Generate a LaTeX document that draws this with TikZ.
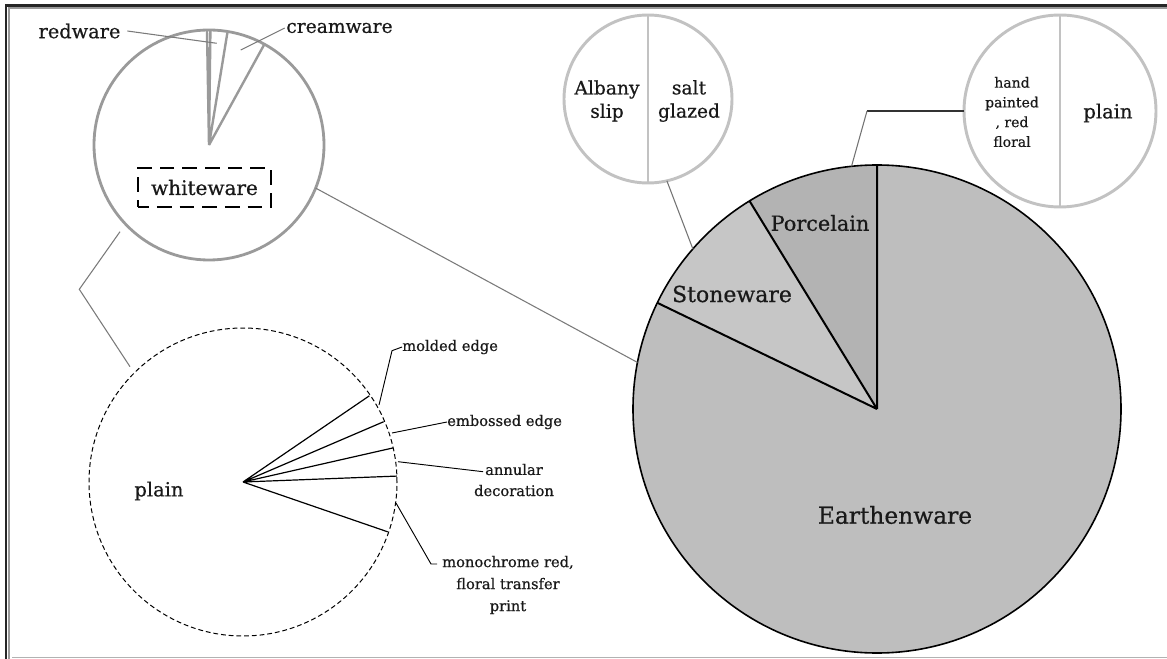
\documentclass[tikz,border=0pt]{standalone}
\usepackage{fontspec}
\setmainfont{DejaVu Serif}[FakeBold=0.6]
\usetikzlibrary{calc}
\definecolor{earth}{HTML}{BEBEBE}
\definecolor{stone}{HTML}{C6C6C6}
\definecolor{porc}{HTML}{B3B3B3}
\definecolor{ringgray}{HTML}{9A9A9A}
\definecolor{lightring}{HTML}{C2C2C2}
\definecolor{leadgray}{HTML}{7A7A7A}
\newcommand{\myfs}[2]{\fontsize{#1}{#2}\selectfont}
\begin{document}
\begin{tikzpicture}[x=0.75pt,y=0.75pt,
  ring/.style={draw=ringgray,line width=2.1pt},
  lring/.style={draw=lightring,line width=2.2pt},
  leader/.style={draw=leadgray,line width=0.8pt},
  blead/.style={draw=black,line width=0.7pt},
  lbl/.style={inner sep=0pt,align=center,text=black!90},
  disc/.style={circle,inner sep=0pt,outer sep=0pt}]
\useasboundingbox (0,-659) rectangle (1167,0);
% frame
\draw[line width=1.8pt,black!85] (6,-659) -- (6,-5.5) -- (1167,-5.5);
\draw[line width=1.5pt,black!40] (8.7,-659) -- (8.7,-8) -- (1167,-8);
\draw[line width=1pt,black!30] (12,-657.5) -- (1167,-657.5);

% ---------- big pie ----------
\node[disc,minimum size=366pt] (big) at (877,-409) {};
\fill[earth] (big.center) circle[radius=244];
\fill[porc] (big.center) -- ++(90:244) arc[start angle=90,end angle=121.5,radius=244] -- cycle;
\fill[stone] (big.center) -- ++(121.5:244) arc[start angle=121.5,end angle=154.2,radius=244] -- cycle;
\draw[line width=1.2pt] (big.center) circle[radius=244];
\draw[line width=1.5pt] (big.center) -- ++(90:244) (big.center) -- ++(121.5:244) (big.center) -- ++(154.2:244);
\node[lbl,font=\myfs{15.6}{18}] (porct) at (820,-223) {Porcelain};
\node[lbl,font=\myfs{16.5}{19}] (stont) at (732,-294) {Stoneware};
\node[lbl,font=\myfs{17.5}{20}] (eartht) at (895,-515) {Earthenware};

% ---------- stoneware breakdown ----------
\node[disc,lring,minimum size=126pt] (alb) at (648,-99) {};
\draw[lring] (alb.north) -- (alb.south);
\node[lbl,font=\myfs{14}{17.5}] (albt) at (607,-101) {Albany\\slip};
\node[lbl,font=\myfs{14}{17.5}] (saltt) at (689,-101) {salt\\glazed};
\draw[line width=0.8pt,black!55] (alb.-77) -- (big.139);

% ---------- porcelain breakdown ----------
\node[disc,lring,minimum size=144pt] (hp) at (1060,-111) {};
\draw[lring] (hp.north) -- (hp.south);
\node[lbl,font=\myfs{10.5}{14.8}] (hpt) at (1012,-112) {hand\\painted\\, red\\floral};
\node[lbl,font=\myfs{14.6}{17}] (plainr) at (1108,-113) {plain};
\coordinate (hpb) at (867,-111);
\draw[line width=0.8pt,black!80] (hp.west) -- (hpb);
\draw[line width=0.8pt,black!55] (hpb) -- (big.96);

% ---------- whiteware pie (earthenware breakdown) ----------
\node[disc,ring,minimum size=172.5pt] (wp) at (209,-145) {};
\draw[draw=ringgray,line width=1.8pt,line join=round]
  (wp.center) -- ++(91:114) (wp.center) -- ++(89.3:114)
  (wp.center) -- ++(80.7:114) (wp.center) -- ++(61.2:114);
\node[draw,line width=1.6pt,dash pattern=on 11pt off 6pt,dash phase=3pt,
  minimum width=99.5pt,minimum height=29pt,inner sep=0pt,font=\myfs{15}{17},text=black!90]
  (wbox) at (204.5,-187.5) {whiteware};
\node[lbl,font=\myfs{14.5}{17}] (redt) at (79.5,-31) {redware};
\node[lbl,font=\myfs{14}{17}] (cremt) at (339.5,-28) {creamware};
\coordinate (redend) at (216.7,-43.3);
\coordinate (cremend) at (240.7,-50);
\draw[leader] ([xshift=5pt]redt.east) -- (redend);
\draw[leader] ([xshift=-1pt]cremt.west) -- (cremend);
\draw[leader] (wp.-22) -- (big.169);

% ---------- whiteware breakdown (dashed pie) ----------
\node[disc,draw,line width=0.75pt,dash pattern=on 3.6pt off 2.2pt,minimum size=231pt] (dp) at (243,-482) {};
\draw[line width=0.9pt,line join=round]
  (dp.center) -- ++(34.3:153) (dp.center) -- ++(23.2:153)
  (dp.center) -- ++(12.8:154) (dp.center) -- ++(2.2:154)
  (dp.center) -- ++(-19:153);
\node[lbl,font=\myfs{14.6}{17}] (plainl) at (159,-491) {plain};
\coordinate (b1) at (120,-231.7);
\coordinate (b2) at (79.3,-289.3);
\coordinate (b3) at (130,-366.7);
\draw[leader] (b1) -- (b2) -- (b3);

\node[lbl,anchor=west,font=\myfs{11}{15}] (mold) at (402,-347) {molded edge};
\node[lbl,anchor=west,font=\myfs{11}{15}] (emb) at (447,-422) {embossed edge};
\node[lbl,font=\myfs{11}{15.8}] (ann) at (514,-480) {annular\\decoration};
\node[lbl,font=\myfs{11}{16.5}] (mono) at (508,-585) {monochrome red,\\floral transfer\\print};
\coordinate (m1) at (392,-350.7);
\coordinate (m2) at (379,-405);
\coordinate (e1) at (392,-433);
\coordinate (a0) at (483,-471.7);
\coordinate (a1) at (398,-461.7);
\coordinate (c0) at (437,-564);
\coordinate (c1) at (431,-564);
\coordinate (c2) at (396,-503);
\draw[blead] (mold.west) -- (m1) -- (m2);
\draw[blead] (emb.west) -- (e1);
\draw[blead] (a0) -- (a1);
\draw[blead] (c0) -- (c1) -- (c2);
\end{tikzpicture}
\end{document}
